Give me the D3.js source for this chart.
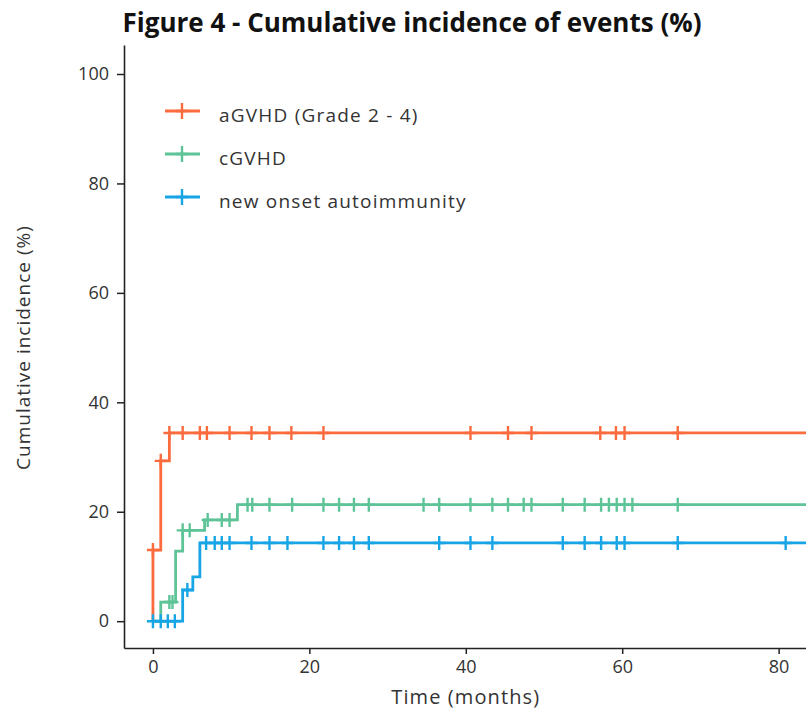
<!DOCTYPE html>
<html>
<head>
<meta charset="utf-8">
<script src="https://cdn.jsdelivr.net/npm/d3@7"></script>
<style>
  body { margin: 0; background: #fff; }
  text { font-family: "Open Sans", sans-serif; }
</style>
</head>
<body>
<script>
    const width = 806;
    const height = 712;

    // series data (time in months, incidence in %)
    const seriesNames = ["aGVHD (Grade 2 - 4)", "cGVHD", "new onset autoimmunity"];
    const seriesColors = ["#fb6b3d", "#5ec498", "#18a5e6"];

    const agvhdTimes = [0, 0, 1.0, 2.1];
    const agvhdValues = [0, 13.0, 29.3, 34.4];
    const agvhdCensor = [0, 1.0, 2.1, 3.8, 6.0, 6.9, 9.8, 12.6, 14.9, 17.7, 21.8, 40.6, 45.4, 48.4, 57.2, 59.2, 60.3, 67.1];

    const cgvhdTimes = [0, 1.0, 2.9, 3.8, 6.6, 10.8];
    const cgvhdValues = [0, 3.5, 12.8, 16.6, 18.5, 21.3];
    const cgvhdCensor = [2.1, 2.5, 3.8, 4.7, 7.0, 8.8, 9.8, 12.1, 12.7, 14.9, 17.8, 21.8, 23.8, 25.7, 27.6, 34.6, 36.6,
        40.6, 43.4, 45.4, 47.4, 48.4, 52.4, 55.2, 57.3, 58.3, 59.3, 60.3, 61.3, 67.1];

    const autoTimes = [0, 3.8, 5.1, 6.0];
    const autoValues = [0, 5.7, 8.1, 14.3];
    const autoCensor = [0, 1.0, 1.9, 2.8, 4.4, 6.8, 7.9, 8.8, 9.8, 12.6, 14.9, 17.2, 21.8, 23.8, 25.7, 27.6, 36.6,
        40.6, 43.4, 52.4, 55.2, 57.3, 59.3, 60.3, 67.1, 80.9];

    const xTicks = [0, 20, 40, 60, 80];
    const yTicks = [0, 20, 40, 60, 80, 100];

    const series = [
        { name: seriesNames[0], color: seriesColors[0], times: agvhdTimes, values: agvhdValues, censor: agvhdCensor },
        { name: seriesNames[1], color: seriesColors[1], times: cgvhdTimes, values: cgvhdValues, censor: cgvhdCensor },
        { name: seriesNames[2], color: seriesColors[2], times: autoTimes, values: autoValues, censor: autoCensor }
    ];

    const x = d3.scaleLinear().domain([-3.7, 83.5]).range([124, 806]);
    const y = d3.scaleLinear().domain([-4.9, 105.3]).range([648, 45]);

    const svg = d3.select("body")
        .append("svg")
        .attr("width", width)
        .attr("height", height);

    // title
    svg.append("text")
        .attr("x", 412)
        .attr("y", 32)
        .attr("text-anchor", "middle")
        .style("font-size", "26px")
        .style("font-weight", "bold")
        .attr("fill", "#111")
        .text("Figure 4 - Cumulative incidence of events (%)");

    // axes
    const xAxis = svg.append("g")
        .attr("transform", `translate(0,${y.range()[0]})`)
        .call(d3.axisBottom(x).tickValues(xTicks).tickSize(6).tickPadding(6).tickSizeOuter(0));
    const yAxis = svg.append("g")
        .attr("transform", `translate(${x.range()[0]},0)`)
        .call(d3.axisLeft(y).tickValues(yTicks).tickSize(7).tickPadding(8).tickSizeOuter(0));

    [xAxis, yAxis].forEach(a => {
        a.select(".domain").attr("stroke", "#222").attr("stroke-width", 1.6);
        a.selectAll(".tick line").attr("stroke", "#222").attr("stroke-width", 1.5);
        a.selectAll(".tick text")
            .style("font-family", "'Open Sans', sans-serif")
            .style("font-size", "18px")
            .attr("fill", "#333");
    });

    // axis titles
    svg.append("text")
        .attr("x", x(40))
        .attr("y", 704)
        .attr("text-anchor", "middle")
        .style("font-size", "20px")
        .style("letter-spacing", "1.1px")
        .attr("fill", "#333")
        .text("Time (months)");

    svg.append("text")
        .attr("transform", `translate(30,${y(50)}) rotate(-90)`)
        .attr("text-anchor", "middle")
        .style("font-size", "19px")
        .style("letter-spacing", "1px")
        .attr("fill", "#333")
        .text("Cumulative incidence (%)");

    // step value at time t (after jumps)
    function valueAt(s, t) {
        let v = s.values[0];
        for (let i = 0; i < s.times.length; i++) {
            if (s.times[i] <= t) v = s.values[i];
        }
        return v;
    }

    const line = d3.line()
        .x(d => x(d[0]))
        .y(d => y(d[1]))
        .curve(d3.curveStepAfter);

    const plot = svg.append("g");

    series.forEach(s => {
        const pts = s.times.map((t, i) => [t, s.values[i]]);
        pts.push([x.domain()[1], s.values[s.values.length - 1]]);

        plot.append("path")
            .datum(pts)
            .attr("fill", "none")
            .attr("stroke", s.color)
            .attr("stroke-width", 2.8)
            .attr("d", line);

        // censor marks
        plot.append("g")
            .selectAll("path")
            .data(s.censor)
            .join("path")
            .attr("transform", t => `translate(${x(t)},${y(valueAt(s, t))})`)
            .attr("d", "M-6,0H6M0,-7V7")
            .attr("stroke", s.color)
            .attr("stroke-width", 2.4)
            .attr("fill", "none");
    });

    // legend
    const legend = svg.append("g");
    series.forEach((s, i) => {
        const ly = 111 + i * 43;
        legend.append("line")
            .attr("x1", 165).attr("x2", 200)
            .attr("y1", ly).attr("y2", ly)
            .attr("stroke", s.color)
            .attr("stroke-width", 2.8);
        legend.append("path")
            .attr("transform", `translate(182,${ly})`)
            .attr("d", "M-6,0H6M0,-8V8")
            .attr("stroke", s.color)
            .attr("stroke-width", 2.4);
        legend.append("text")
            .attr("x", 219)
            .attr("y", ly + 10.5)
            .style("font-size", "19px")
            .style("letter-spacing", "1.2px")
            .attr("fill", "#333")
            .text(s.name);
    });
</script>
</body>
</html>
